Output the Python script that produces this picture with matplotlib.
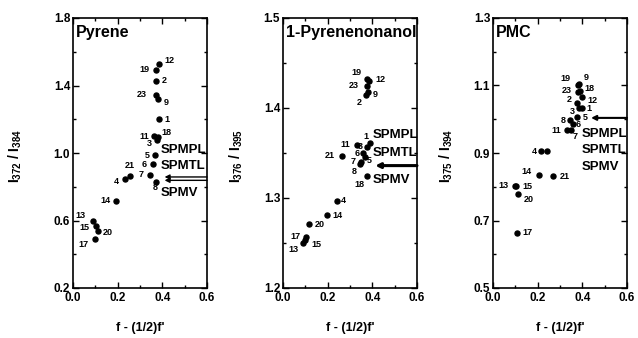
import matplotlib
matplotlib.use("Agg")
import matplotlib.pyplot as plt
from matplotlib.ticker import FixedLocator, FormatStrFormatter

plt.rcParams['font.family'] = ['Liberation Sans', 'DejaVu Sans']
plt.rcParams['font.weight'] = 'bold'
plt.rcParams['mathtext.fontset'] = 'custom'
plt.rcParams['mathtext.rm'] = 'Liberation Sans:bold'
plt.rcParams['mathtext.default'] = 'rm'

# ---------------------------------------------------------------- data
x_ticks = [0.0, 0.2, 0.4, 0.6]
x_minor = [0.1, 0.3, 0.5]

# Pyrene
pyr_ids = ["12", "19", "2", "23", "9", "1", "11", "18", "3", "5", "6", "7", "8",
           "21", "4", "14", "13", "15", "20", "17"]
pyr_x = [0.386, 0.372, 0.372, 0.372, 0.380, 0.386, 0.363, 0.380, 0.375, 0.366, 0.360,
         0.345, 0.372, 0.255, 0.233, 0.193, 0.088, 0.103, 0.110, 0.099]
pyr_y = [1.526, 1.492, 1.427, 1.345, 1.318, 1.200, 1.100, 1.095, 1.075, 0.988, 0.933,
         0.870, 0.830, 0.866, 0.846, 0.716, 0.600, 0.565, 0.535, 0.489]
pyr_spm = [0.858, 0.838]
pyr_yticks = [0.2, 0.6, 1.0, 1.4, 1.8]
pyr_yminor = [0.4, 0.8, 1.2, 1.6]

# 1-Pyrenenonanol
non_ids = ["19", "23", "12", "9", "2", "1", "11", "3", "6", "5", "7", "8",
           "21", "18", "4", "14", "20", "17", "15", "13"]
non_x = [0.375, 0.375, 0.387, 0.380, 0.370, 0.390, 0.333, 0.375, 0.360, 0.368, 0.348,
         0.345, 0.263, 0.378, 0.240, 0.198, 0.116, 0.102, 0.100, 0.090]
non_y = [1.432, 1.425, 1.430, 1.418, 1.415, 1.361, 1.359, 1.357, 1.350, 1.346, 1.340,
         1.338, 1.347, 1.325, 1.297, 1.281, 1.271, 1.257, 1.253, 1.250]
non_spm = [1.336]
non_yticks = [1.2, 1.3, 1.4, 1.5]
non_yminor = [1.25, 1.35, 1.45]

# PMC
pmc_ids = ["19", "9", "23", "18", "2", "12", "3", "1", "8", "5", "6", "7", "11",
           "4", "", "14", "21", "13", "15", "20", "17"]
pmc_x = [0.380, 0.385, 0.382, 0.390, 0.378, 0.400, 0.385, 0.400, 0.345, 0.376, 0.360,
         0.350, 0.331, 0.214, 0.244, 0.204, 0.267, 0.100, 0.104, 0.114, 0.107]
pmc_y = [1.100, 1.105, 1.082, 1.085, 1.049, 1.065, 1.032, 1.032, 0.997, 1.007, 0.985,
         0.967, 0.967, 0.905, 0.905, 0.835, 0.831, 0.803, 0.803, 0.778, 0.664]
pmc_spm = [1.004]
pmc_yticks = [0.5, 0.7, 0.9, 1.1, 1.3]
pmc_yminor = [0.6, 0.8, 1.0, 1.2]

spm_names = ["SPMPL", "SPMTL", "SPMV"]

# label offsets in pixels (dx, dy)
pyr_off = [(10, 4), (-12, 0), (8, 0), (-14, 0), (8, -3), (8, 0), (-10, 0), (9, 4),
           (-7, -3), (-8, 0), (-9, 0), (-9, 0), (-1, -6), (0, 10), (-9, -3), (-11, 0),
           (-12, 5), (-12, -1), (10, -1), (-12, -5)]
non_off = [(-10, 7), (-13, 0), (11, 1), (7, -3), (-6, -8), (-4, 7), (-12, 0), (-6, 0),
           (-6, -1), (4, -4), (-8, 0), (-6, -8), (-12, 0), (-8, -9), (7, 0), (10, 0),
           (11, 0), (-10, 0), (11, -4), (-10, -7)]
pmc_off = [(-12, 7), (7, 6), (-12, 1), (9, 2), (-8, 3), (10, -3), (-7, -3), (7, 0),
           (-7, 0), (8, -1), (5, 0), (4, -6), (-11, 0), (-6, 0), (0, 0), (-12, 3),
           (12, 0), (-12, 0), (11, -1), (10, -5), (11, 0)]

panels = [
    dict(title="Pyrene", ids=pyr_ids, x=pyr_x, y=pyr_y, off=pyr_off, spm=pyr_spm,
         ylim=(0.2, 1.8), yticks=pyr_yticks, yminor=pyr_yminor,
         ylabel=r"I$_{372}$ / I$_{384}$", ylab_x=-0.43,
         spm_x=0.392, spm_y=[1.02, 0.925, 0.765], line_x=0.41, lw=1.0),
    dict(title="1-Pyrenenonanol", ids=non_ids, x=non_x, y=non_y, off=non_off, spm=non_spm,
         ylim=(1.2, 1.5), yticks=non_yticks, yminor=non_yminor,
         ylabel=r"I$_{376}$ / I$_{395}$", ylab_x=-0.35,
         spm_x=0.40, spm_y=[1.37, 1.35, 1.32], line_x=0.413, lw=2.2),
    dict(title="PMC", ids=pmc_ids, x=pmc_x, y=pmc_y, off=pmc_off, spm=pmc_spm,
         ylim=(0.5, 1.3), yticks=pmc_yticks, yminor=pmc_yminor,
         ylabel=r"I$_{375}$ / I$_{394}$", ylab_x=-0.35,
         spm_x=0.398, spm_y=[0.957, 0.908, 0.858], line_x=0.439, lw=1.5),
]

fig = plt.figure(figsize=(6.38, 3.38), dpi=100)
lefts = [73 / 638, 283 / 638, 493 / 638]

for left, p in zip(lefts, panels):
    ax = fig.add_axes([left, 50 / 338, 134 / 638, 270 / 338])
    ax.set_xlim(0.0, 0.6)
    ax.set_ylim(*p["ylim"])
    ax.xaxis.set_major_locator(FixedLocator(x_ticks))
    ax.xaxis.set_minor_locator(FixedLocator(x_minor))
    ax.yaxis.set_major_locator(FixedLocator(p["yticks"]))
    ax.yaxis.set_minor_locator(FixedLocator(p["yminor"]))
    ax.xaxis.set_major_formatter(FormatStrFormatter("%.1f"))
    ax.yaxis.set_major_formatter(FormatStrFormatter("%.1f"))
    ax.tick_params(which="both", direction="in", top=True, right=True, width=1.0,
                   labelsize=8.5, pad=2)
    ax.tick_params(axis="x", pad=3)
    ax.tick_params(which="major", length=4)
    ax.tick_params(which="minor", length=2)
    for s in ax.spines.values():
        s.set_linewidth(1.2)

    ax.plot(p["x"], p["y"], "o", color="black", markersize=3.6, zorder=3)
    for name, xv, yv, (dx, dy) in zip(p["ids"], p["x"], p["y"], p["off"]):
        if name:
            ax.annotate(name, (xv, yv), xytext=(dx, dy), textcoords="offset pixels",
                        ha="center", va="center", fontsize=6.5, fontweight="bold")

    # SPM reference lines
    for yv in p["spm"]:
        ax.annotate("", xy=(p["line_x"], yv), xytext=(0.6, yv),
                    arrowprops=dict(arrowstyle="-|>", lw=p["lw"], color="black",
                                    mutation_scale=7, shrinkA=0, shrinkB=0))
    for name, yv in zip(spm_names, p["spm_y"]):
        ax.text(p["spm_x"], yv, name, fontsize=9.5, fontweight="bold",
                ha="left", va="center")

    ax.text(0.025, 0.945, p["title"], transform=ax.transAxes, fontsize=11.5,
            fontweight="bold", ha="left", va="center")
    ax.text(0.5, -0.15, "f - (1/2)f'", transform=ax.transAxes, fontsize=9,
            fontweight="bold", ha="center", va="center")
    ax.text(p["ylab_x"], 0.49, p["ylabel"], transform=ax.transAxes, fontsize=10,
            fontweight="bold", ha="center", va="center", rotation=90)

fig.savefig("out.png", dpi=100)
